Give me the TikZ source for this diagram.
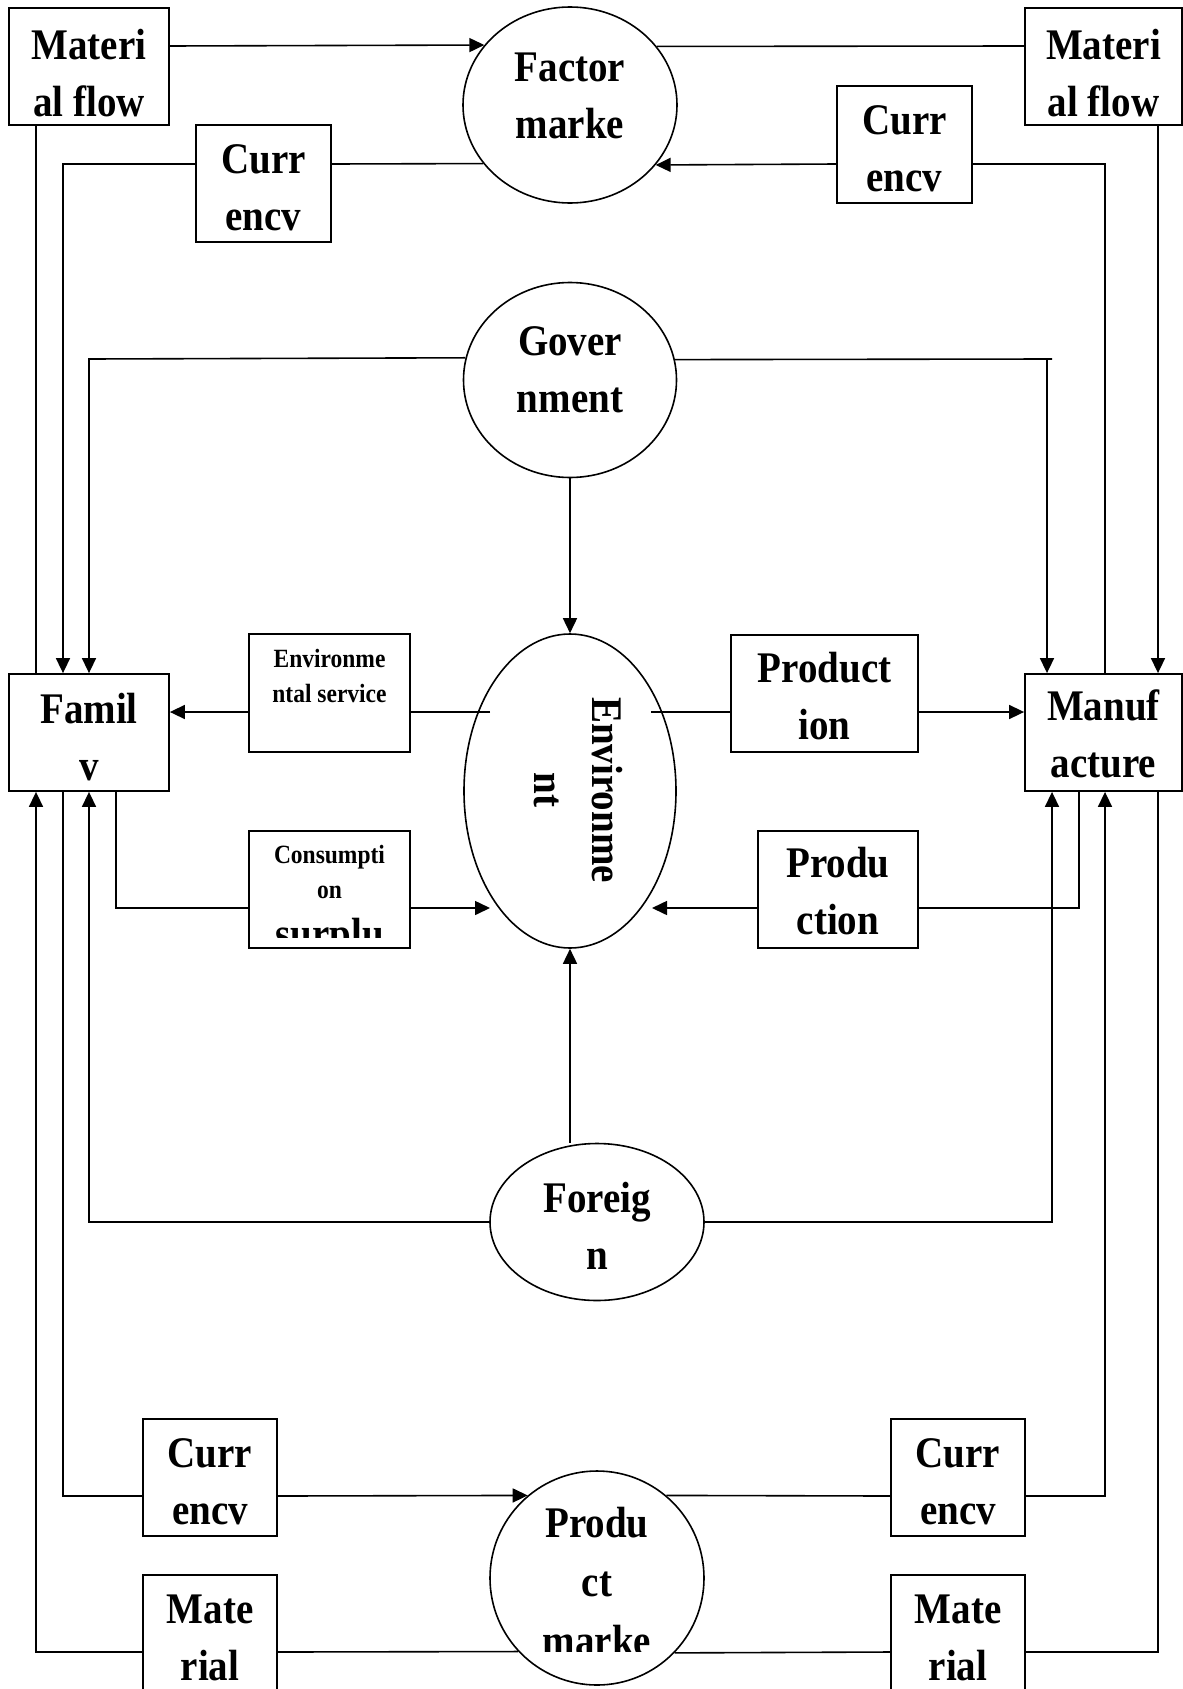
\documentclass[tikz,border=0pt]{standalone}
\usepackage{fontspec}
\usepackage{graphicx}
\setmainfont{Liberation Serif}
\usetikzlibrary{arrows.meta,shapes.geometric,calc}
\newcommand{\vst}[1]{\scalebox{1}[1.12]{#1}}
\newcommand{\twol}[2]{\vst{\begin{tabular}[t]{@{}c@{}}#1\\#2\end{tabular}}}
\tikzset{
  box/.style={draw, line width=1.8pt, rectangle, inner sep=0pt},
  oval/.style={draw, line width=1.6pt, ellipse, inner sep=0pt},
  big/.style={font=\fontsize{39}{51}\selectfont\bfseries, inner sep=0pt, anchor=base},
  small/.style={font=\fontsize{23.5}{32}\selectfont\bfseries, inner sep=0pt, anchor=base},
  conn/.style={line width=1.6pt},
  arr/.style={conn, -{Triangle[length=15pt,width=14pt]}},
}
\begin{document}
\begin{tikzpicture}[x=1pt,y=-1pt]
\fill[white] (0,0) rectangle (1183,1689);
\useasboundingbox (0,0) rectangle (1183,1689);
% lanes and levels
\coordinate (xa) at (36,0);
\coordinate (xb) at (63,0);
\coordinate (xc) at (89,0);
\coordinate (xd) at (116,0);
\coordinate (xe) at (1047,0);
\coordinate (xf) at (1052,0);
\coordinate (xg) at (1079,0);
\coordinate (xh) at (1105,0);
\coordinate (xi) at (1158,0);
\coordinate (ya) at (0,46);
\coordinate (yb) at (0,164);
\coordinate (yc) at (0,359);
\coordinate (ye) at (0,908);
\coordinate (yg) at (0,1496);
\coordinate (yh) at (0,1652);
% shapes
\node[box, minimum width=160pt, minimum height=117pt] (matL) at (89,66.5) {};
\node[box, minimum width=135pt, minimum height=117pt] (curL) at (263.5,183.5) {};
\node[oval, minimum width=214pt, minimum height=196pt] (fac) at (570,105) {};
\node[box, minimum width=135pt, minimum height=117pt] (curR) at (904.5,144.5) {};
\node[box, minimum width=157pt, minimum height=117pt] (matR) at (1103.5,66.5) {};
\node[oval, minimum width=213pt, minimum height=195pt] (gov) at (570,380) {};
\node[box, minimum width=160pt, minimum height=117pt] (fam) at (89,732.5) {};
\node[box, minimum width=161pt, minimum height=118pt] (envs) at (329.5,693) {};
\node[oval, minimum width=212pt, minimum height=314pt] (env) at (570,791) {};
\node[box, minimum width=187pt, minimum height=117pt] (prod1) at (824.5,693.5) {};
\node[box, minimum width=157pt, minimum height=117pt] (man) at (1103.5,732.5) {};
\node[box, minimum width=161pt, minimum height=117pt] (cons) at (329.5,889.5) {};
\node[box, minimum width=160pt, minimum height=117pt] (prod2) at (838,889.5) {};
\node[oval, minimum width=214pt, minimum height=157pt] (for) at (597,1222) {};
\node[box, minimum width=134pt, minimum height=117pt] (curBL) at (210,1477.5) {};
\node[box, minimum width=134pt, minimum height=117pt] (curBR) at (958,1477.5) {};
\node[box, minimum width=134pt, minimum height=117pt] (matBL) at (210,1633.5) {};
\node[box, minimum width=134pt, minimum height=117pt] (matBR) at (958,1633.5) {};
\node[oval, minimum width=214pt, minimum height=214pt] (pm) at (597,1578) {};
% texts
\node[big] (matLt) at (89,59) {\twol{Materi}{al flow}};
\node[big] (curLt) at (263.5,173) {\twol{Curr}{encv}};
\node[big] (fact) at (570,81) {\twol{Factor}{marke}};
\node[big] (curRt) at (904.5,134) {\twol{Curr}{encv}};
\node[big] (matRt) at (1103.5,59) {\twol{Materi}{al flow}};
\node[big] (govt) at (570,355) {\twol{Gover}{nment}};
\node[big] (famt) at (89,723) {\twol{Famil}{v}};
\node[small] (envst) at (329.5,667) {\twol{Environme}{ntal service}};
\node[big, rotate=-90] (envt) at (592,790) {\twol{Environme}{nt}};
\node[big] (prod1t) at (824.5,682) {\twol{Product}{ion}};
\node[big] (mant) at (1103.5,720) {\twol{Manuf}{acture}};
\begin{scope}
\clip (249,831) rectangle (410,937);
\node[small] (const) at (329.5,863) {\vst{\begin{tabular}[t]{@{}c@{}}Consumpti\\on\\[8pt]{\fontsize{39}{51}\selectfont surplu}\end{tabular}}};
\end{scope}
\node[big] (prod2t) at (838,877) {\twol{Produ}{ction}};
\node[big] (fort) at (597,1212) {\twol{Foreig}{n}};
\node[big] (curBLt) at (210,1467) {\twol{Curr}{encv}};
\node[big] (curBRt) at (958,1467) {\twol{Curr}{encv}};
\node[big] (matBLt) at (210,1623) {\twol{Mate}{rial}};
\node[big] (matBRt) at (958,1623) {\twol{Mate}{rial}};
\begin{scope}
\clip (480,1460) rectangle (710,1651);
\node[big] (pmt) at (597,1537) {\vst{\begin{tabular}[t]{@{}c@{}}Produ\\[1.7pt]ct\\[1.7pt]marke\end{tabular}}};
\end{scope}
% inner attachment points on the environment ellipse
\coordinate (eL) at ($(env.center)+(-80,-79)$);
\coordinate (eR) at ($(env.center)+(81,-79)$);
\coordinate (eLL) at ($(env.center)+(-80,117)$);
\coordinate (eRR) at ($(env.center)+(82,117)$);
% connectors: top
\draw[conn] (fam.north -| xa) -- (matL.south -| xa);
\draw[arr] (matL.east |- ya) -- (fac.145.4);
\draw[conn] (fac.34.6) -- (matR.west |- ya);
\draw[arr] (matR.south -| xi) -- (man.north -| xi);
\draw[conn] (man.north -| xh) -- (xh |- yb) -- (curR.east |- yb);
\draw[arr] (curR.west |- yb) -- (fac.325.4);
\draw[conn] (fac.214.6) -- (curL.east |- yb);
\draw[arr] (curL.west |- yb) -- (xb |- yb) -- (fam.north -| xb);
% government
\draw[arr] (gov.168.6) -- (xc |- yc) -- (fam.north -| xc);
\draw[conn] (gov.11.4) -- (xf |- yc);
\draw[arr] (xe |- yc) -- (man.north -| xe);
\draw[arr] (gov.south) -- (env.north);
% environment rows
\draw[conn] (eL) -- (envs.east |- eL);
\draw[arr] (envs.west |- eL) -- (fam.east |- eL);
\draw[conn] (eR) -- (prod1.west |- eR);
\draw[arr] (prod1.east |- eR) -- (man.west |- eR);
\draw[conn] (fam.south -| xd) -- (xd |- ye) -- (cons.west |- ye);
\draw[arr] (cons.east |- ye) -- (eLL);
\draw[conn] (man.south -| xg) -- (xg |- ye) -- (prod2.east |- ye);
\draw[arr] (prod2.west |- ye) -- (eRR);
% foreign
\draw[arr] (for.north -| env.south) -- (env.south);
\draw[arr] (for.west) -- (xc |- for.west) -- (fam.south -| xc);
\draw[arr] (for.east) -- (xf |- for.east) -- (man.south -| xf);
% product market
\draw[conn] (fam.south -| xb) -- (xb |- yg) -- (curBL.west |- yg);
\draw[arr] (curBL.east |- yg) -- (pm.130);
\draw[conn] (pm.50) -- (curBR.west |- yg);
\draw[arr] (curBR.east |- yg) -- (xh |- yg) -- (man.south -| xh);
\draw[conn] (man.south -| xi) -- (xi |- yh) -- (matBR.east |- yh);
\draw[conn] (matBR.west |- yh) -- (pm.316.2);
\draw[conn] (pm.223.8) -- (matBL.east |- yh);
\draw[arr] (matBL.west |- yh) -- (xa |- yh) -- (fam.south -| xa);
\end{tikzpicture}
\end{document}
